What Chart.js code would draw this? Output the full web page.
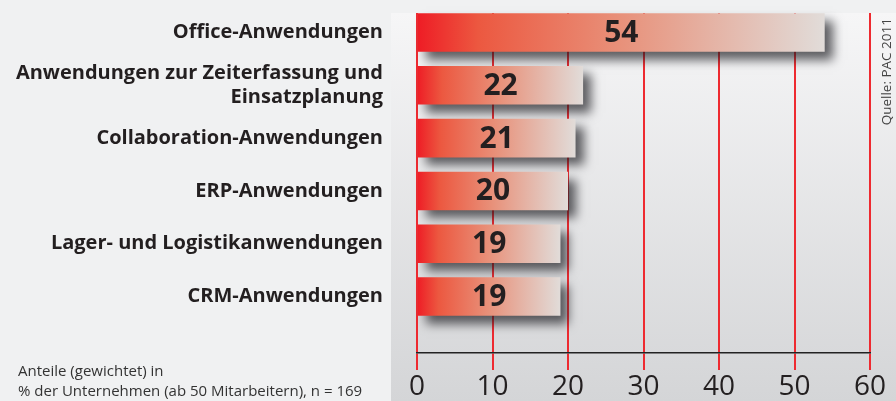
<!DOCTYPE html>
<html lang="de">
<head>
<meta charset="utf-8">
<script src="https://cdn.jsdelivr.net/npm/chart.js@4/dist/chart.umd.min.js"></script>
<style>
    html, body { margin: 0; padding: 0; background: #f0f1f2; }
    #wrap { width: 896px; height: 401px; }
</style>
</head>
<body>
<div id="wrap"><canvas id="grafica"></canvas></div>
<script>
// Daten (Anteile in % der Unternehmen)
const kategorien = [
    'Office-Anwendungen',
    ['Anwendungen zur Zeiterfassung und', 'Einsatzplanung'],
    'Collaboration-Anwendungen',
    'ERP-Anwendungen',
    'Lager- und Logistikanwendungen',
    'CRM-Anwendungen'
];
const anteile = [54, 22, 21, 20, 19, 19];
const achseMin = 0;
const achseMax = 60;
const achseSchritt = 10;
const fussnote = ['Anteile (gewichtet) in', '% der Unternehmen (ab 50 Mitarbeitern), n = 169'];
const quelle = 'Quelle: PAC 2011';

const SCHRIFT = '"Open Sans", "DejaVu Sans", sans-serif';

// Hintergrund-Panel hinter dem Diagramm
const panelPlugin = {
    id: 'panel',
    beforeDraw(chart) {
        const ctx = chart.ctx;
        const top = chart.chartArea.top;
        const g = ctx.createLinearGradient(0, top, 0, chart.height);
        g.addColorStop(0, '#f6f6f7');
        g.addColorStop(1, '#d4d5d7');
        ctx.save();
        ctx.fillStyle = g;
        ctx.fillRect(391, top, chart.width - 391, chart.height - top);
        ctx.restore();
    }
};

// Schatten für die Balken
const schattenPlugin = {
    id: 'schatten',
    beforeDatasetsDraw(chart) {
        const ctx = chart.ctx;
        ctx.save();
        ctx.shadowColor = 'rgba(30,30,35,0.7)';
        ctx.shadowBlur = 10;
        ctx.shadowOffsetX = 8;
        ctx.shadowOffsetY = 8;
    },
    afterDatasetsDraw(chart) {
        chart.ctx.restore();
    }
};

// Werte in den Balken, Fußnote und Quelle
const textPlugin = {
    id: 'texte',
    afterDraw(chart) {
        const ctx = chart.ctx;
        const meta = chart.getDatasetMeta(0);
        ctx.save();
        ctx.fillStyle = '#231f20';
        ctx.font = 'bold 30px ' + SCHRIFT;
        ctx.textAlign = 'center';
        ctx.textBaseline = 'middle';
        meta.data.forEach((bar, i) => {
            ctx.fillText(String(anteile[i]), (bar.x + bar.base) / 2, bar.y + 1);
        });

        ctx.font = '15px ' + SCHRIFT;
        ctx.fillStyle = '#333333';
        ctx.textAlign = 'left';
        ctx.fillText(fussnote[0], 18, 372);
        ctx.fillText(fussnote[1], 18, 392);

        ctx.font = '13.5px ' + SCHRIFT;
        ctx.translate(887, 18);
        ctx.rotate(-Math.PI / 2);
        ctx.textAlign = 'right';
        ctx.fillStyle = '#444444';
        ctx.fillText(quelle, 0, 0);
        ctx.restore();
    }
};

function balkenFarbe(context) {
    const chart = context.chart;
    const x = chart.scales.x;
    if (!chart.chartArea || !x) return '#ee1f26';
    const wert = anteile[context.dataIndex];
    const x0 = x.getPixelForValue(0);
    const x1 = x.getPixelForValue(wert);
    const g = chart.ctx.createLinearGradient(x0, 0, x1, 0);
    g.addColorStop(0, '#ee1c25');
    g.addColorStop(0.15, '#ec5840');
    g.addColorStop(0.5, '#e8917a');
    g.addColorStop(1, '#e1dcd9');
    return g;
}

const ctx = document.getElementById('grafica').getContext('2d');
const grafica = new Chart(ctx, {
    type: 'bar',
    data: {
        datasets: [{
            data: anteile.map((v, i) => ({ x: v, y: i })),
            backgroundColor: balkenFarbe,
            borderWidth: 0,
            categoryPercentage: 1,
            barPercentage: 0.73,
            clip: false
        }]
    },
    options: {
        indexAxis: 'y',
        responsive: true,
        maintainAspectRatio: false,
        animation: false,
        layout: { padding: { top: 13, right: 26, left: 0, bottom: 0 } },
        plugins: {
            legend: { display: false },
            tooltip: { enabled: false }
        },
        scales: {
            x: {
                type: 'linear',
                position: 'bottom',
                min: achseMin,
                max: achseMax,
                ticks: {
                    stepSize: achseSchritt,
                    color: '#231f20',
                    font: { family: SCHRIFT, size: 28 },
                    padding: 0
                },
                grid: {
                    color: '#ee2a30',
                    lineWidth: 2,
                    tickLength: 17
                },
                border: { display: true, color: '#222222', width: 1.5 },
                afterFit(scale) {
                    scale.height = 48;
                    scale.paddingLeft = 0;
                    scale.paddingRight = 0;
                }
            },
            y: {
                type: 'linear',
                reverse: true,
                offset: false,
                bounds: 'data',
                min: -0.37,
                max: 6.07,
                afterBuildTicks(scale) {
                    scale.ticks = kategorien.map((_, i) => ({ value: i }));
                },
                ticks: {
                    autoSkip: false,
                    color: '#231f20',
                    font: { family: SCHRIFT, size: 20, weight: 'bold', lineHeight: 1.2 },
                    padding: 34,
                    callback: (value) => kategorien[value]
                },
                grid: { display: false, drawTicks: false, offset: false },
                border: { display: false },
                afterFit(scale) {
                    scale.width = 417;
                    scale.paddingTop = 0;
                    scale.paddingBottom = 0;
                }
            }
        }
    },
    plugins: [panelPlugin, schattenPlugin, textPlugin]
});
</script>
</body>
</html>
